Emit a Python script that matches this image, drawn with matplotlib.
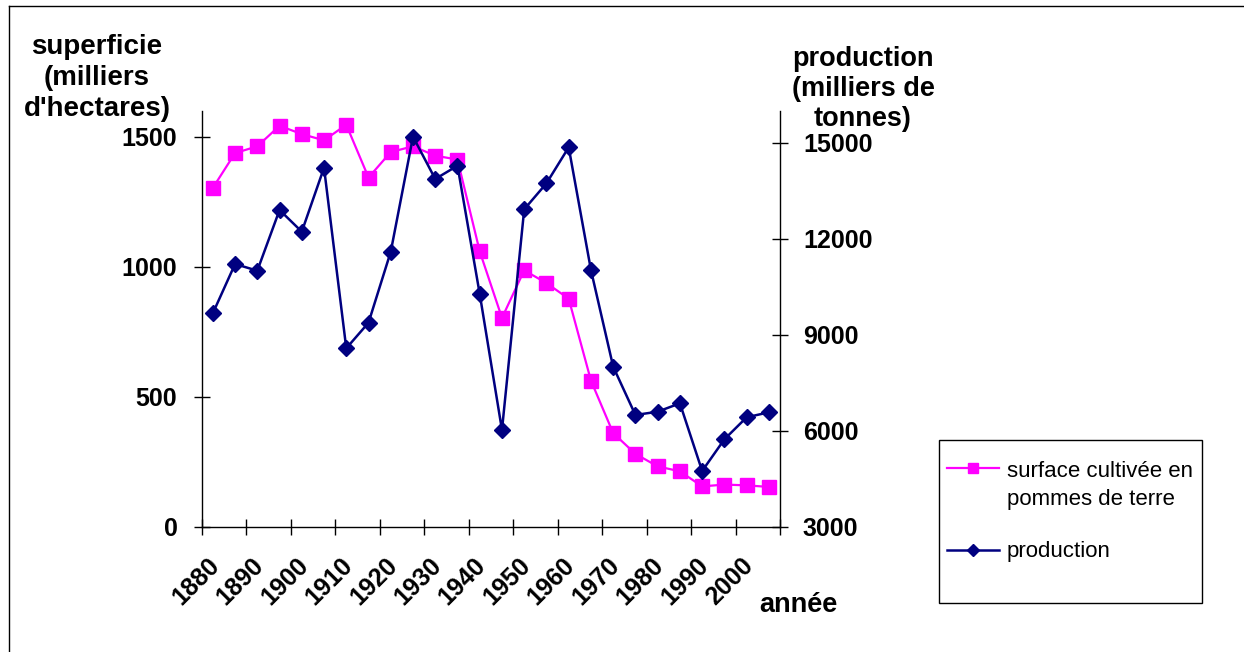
import matplotlib
matplotlib.use("Agg")
import matplotlib.pyplot as plt
from matplotlib.lines import Line2D
from matplotlib.patches import Rectangle
from matplotlib.legend_handler import HandlerLine2D
from matplotlib.transforms import ScaledTranslation
import numpy as np

years = list(range(1880, 2010, 5))
surface = [1303, 1437, 1463, 1542, 1510, 1486, 1546, 1343, 1441, 1463,
           1427, 1412, 1059, 803, 986, 937, 877, 562, 360, 280,
           232, 213, 155, 162, 159, 153]
production = [9669, 11209, 11000, 12897, 12219, 14219, 8575, 9375, 11594, 15188,
              13866, 14281, 10272, 6022, 12919, 13731, 14856, 11022, 8000, 6491,
              6594, 6856, 4741, 5731, 6419, 6575]
label_years = [str(y) for y in years[::2]]
left_ticks = [0, 500, 1000, 1500]
right_ticks = [3000, 6000, 9000, 12000, 15000]

plt.rcParams['font.family'] = ['Liberation Sans', 'DejaVu Sans']

W, H = 1244, 652
fig = plt.figure(figsize=(W / 100, H / 100), dpi=100)
fig.patch.set_facecolor('white')

ax_l, ax_r, ax_b, ax_t = 201.7, 780, 526.7, 110.7
ax = fig.add_axes([ax_l / W, (H - ax_b) / H, (ax_r - ax_l) / W, (ax_b - ax_t) / H])
ax2 = ax.twinx()

x = np.arange(len(years))
l1, = ax.plot(x, surface, color='#FF00FF', lw=1.6, marker='s', ms=9.5,
              mec='#FF00FF', mfc='#FF00FF', label='surface cultivée en\npommes de terre', zorder=3)
l2, = ax2.plot(x, production, color='#000080', lw=1.8, marker='D', ms=8,
               mec='#000080', mfc='#000080', label='production', zorder=4)

ax.set_xlim(-0.5, len(years) - 0.5)
ax.set_ylim(0, 1600)
ax2.set_ylim(3000, 16000)

ax.set_yticks(left_ticks)
ax.set_yticklabels([str(v) for v in left_ticks])
ax2.set_yticks(right_ticks)
ax2.set_yticklabels([str(v) for v in right_ticks])

# x ticks between categories every 2 categories; labels on categories
ax.set_xticks(np.arange(-0.5, len(years), 2))
ax.set_xticklabels([])
ax.set_xticks(x[::2], minor=True)
ax.set_xticklabels(label_years, minor=True, rotation=45, ha='right', va='top',
                   fontsize=18, fontweight='bold')
ax.tick_params(axis='x', which='major', direction='inout', length=11, width=1, color='black')
ax.tick_params(axis='x', which='minor', length=0, pad=19)
for lab in ax.get_xticklabels(minor=True):
    lab.set_transform(lab.get_transform() + ScaledTranslation(11 / 100, 0, fig.dpi_scale_trans))

ax.tick_params(axis='y', direction='inout', length=11, width=1, pad=12, labelsize=18)
ax2.tick_params(axis='y', direction='inout', length=11, width=1, pad=11, labelsize=18)
for lab in ax.get_yticklabels() + ax2.get_yticklabels():
    lab.set_fontweight('bold')

for a in (ax, ax2):
    a.spines['top'].set_visible(False)
    a.set_facecolor('none')
    for s in ('left', 'right', 'bottom'):
        a.spines[s].set_linewidth(1.0)
        a.spines[s].set_color('black')
ax.spines['right'].set_visible(False)
ax2.spines['left'].set_visible(False)
ax2.spines['bottom'].set_visible(False)

# axis titles
fig.text(97 / W, 1 - 78 / H, "superficie\n(milliers\nd'hectares)", ha='center', va='center',
         fontsize=20, fontweight='bold', linespacing=1.25)
fig.text(863 / W, 1 - 89 / H, "production\n(milliers de\ntonnes)", ha='center', va='center',
         fontsize=19.5, fontweight='bold', linespacing=1.2)
fig.text(798 / W, 1 - 605 / H, "année", ha='center', va='center', fontsize=19.5, fontweight='bold')


class ShiftedHandler(HandlerLine2D):
    def __init__(self, shift=0.0, **kw):
        super().__init__(**kw)
        self.shift = shift

    def create_artists(self, legend, orig_handle, xdescent, ydescent, width, height, fontsize, trans):
        return super().create_artists(legend, orig_handle, xdescent, ydescent - 2 * self.shift,
                                      width, height, fontsize, trans)


# legend box
fig.add_artist(Rectangle((939 / W, 1 - 603 / H), (1202 - 939) / W, (603 - 440) / H,
                         transform=fig.transFigure, fill=False, edgecolor='black', lw=1.0))
leg = fig.legend(handles=[l1, l2], loc='upper left',
                 bbox_to_anchor=(947 / W, 1 - 461 / H), bbox_transform=fig.transFigure,
                 fontsize=16, frameon=False, handlelength=2.35, borderpad=0, borderaxespad=0,
                 handletextpad=0.35, labelspacing=1.4, markerscale=0.8,
                 handler_map={l1: ShiftedHandler(shift=12.5)})
for t in leg.get_texts():
    t.set_linespacing(1.45)

# chart area border (top and left visible)
fig.add_artist(Line2D([9 / W, 9 / W], [0, 1 - 6 / H], transform=fig.transFigure, color='black', lw=1))
fig.add_artist(Line2D([9 / W, 1], [1 - 6 / H, 1 - 6 / H], transform=fig.transFigure, color='black', lw=1))

fig.savefig('out.png', dpi=100, facecolor='white')
